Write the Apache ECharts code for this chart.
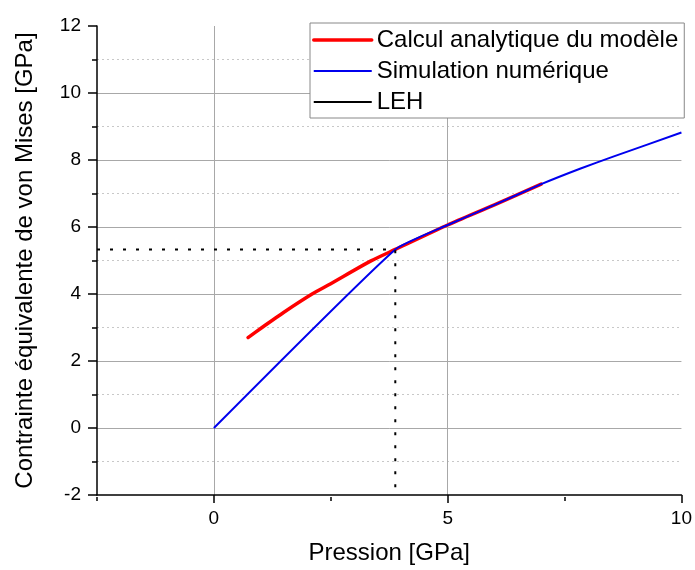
<!DOCTYPE html>
<html>
<head>
<meta charset="utf-8">
<script src="https://cdn.jsdelivr.net/npm/echarts@6/dist/echarts.min.js"></script>
<style>
html,body{margin:0;padding:0;background:#fff;}
#c{width:695px;height:570px;}
</style>
</head>
<body>
<div id="c"></div>
<script>
// ---- data ----
const analyticX = [0.73, 1.03, 1.49, 2.10, 2.49, 3.35, 3.88, 5.0, 6.0, 7.0];
const analyticY = [2.70, 3.00, 3.45, 4.00, 4.30, 4.98, 5.33, 6.06, 6.66, 7.28];
const simX = [0, 3.88, 5.0, 6.0, 7.0, 7.83, 8.54, 10];
const simY = [0, 5.33, 6.06, 6.66, 7.28, 7.74, 8.10, 8.82];
const lehX = [-2.5, 3.88, 3.88];
const lehY = [5.33, 5.33, -2];
const xMajorTicks = [0, 5, 10];
const seriesNames = ['Calcul analytique du modèle', 'Simulation numérique', 'LEH'];

const FONT = 'Liberation Sans, Arial, sans-serif';
const zip = (a, b) => a.map((v, i) => [v, b[i]]);

const chart = echarts.init(document.getElementById('c'), null, {renderer: 'canvas'});
const gridPos = {left: 97, right: 13, top: 26, bottom: 73, containLabel: false};
chart.setOption({
  animation: false,
  backgroundColor: '#fff',
  grid: [Object.assign({}, gridPos), Object.assign({}, gridPos)],
  legend: {
    orient: 'vertical',
    left: 310, top: 23,
    backgroundColor: '#fff',
    borderColor: '#888', borderWidth: 1,
    padding: [5, 6, 4, 2],
    itemWidth: 58, itemHeight: 14, itemGap: 7,
    itemStyle: {opacity: 0},
    textStyle: {fontFamily: FONT, fontSize: 24, color: '#000', lineHeight: 24},
    data: [
      {name: seriesNames[0], lineStyle: {color: '#ff0000', width: 3.5, type: 'solid'}},
      {name: seriesNames[1], lineStyle: {color: '#0000ee', width: 2, type: 'solid'}},
      {name: seriesNames[2], lineStyle: {color: '#000', width: 2, type: 'solid'}}
    ]
  },
  xAxis: [{
    gridIndex: 0, type: 'value', min: -2.5, max: 10,
    name: 'Pression [GPa]', nameLocation: 'middle', nameGap: 46,
    nameTextStyle: {fontFamily: FONT, fontSize: 24, color: '#000'},
    axisLine: {show: true, onZero: false, lineStyle: {color: '#000', width: 1.5}},
    axisTick: {show: true, inside: false, length: 8, customValues: xMajorTicks, lineStyle: {color: '#000', width: 1.5}},
    axisLabel: {show: true, customValues: xMajorTicks, margin: 14, fontFamily: FONT, fontSize: 19, color: '#000'},
    splitLine: {show: true, lineStyle: {color: ['#a8a8a8', '#a8a8a8', 'rgba(0,0,0,0)'], width: 1}}
  }, {
    gridIndex: 1, type: 'value', min: -2.5, max: 10, interval: 2.5, position: 'bottom',
    axisLine: {show: false, onZero: false},
    axisTick: {show: true, length: 4, lineStyle: {color: '#000', width: 1.5}},
    axisLabel: {show: false},
    splitLine: {show: false}
  }],
  yAxis: [{
    gridIndex: 0, type: 'value', min: -2, max: 12, interval: 2,
    name: 'Contrainte équivalente de von Mises [GPa]', nameLocation: 'middle', nameGap: 60,
    nameTextStyle: {fontFamily: FONT, fontSize: 24, color: '#000'},
    axisLine: {show: true, onZero: false, lineStyle: {color: '#000', width: 1.5}},
    axisTick: {show: true, length: 9, lineStyle: {color: '#000', width: 1.5}},
    minorTick: {show: true, splitNumber: 2, length: 5, lineStyle: {color: '#000', width: 1.5}},
    axisLabel: {margin: 16, fontFamily: FONT, fontSize: 19, color: '#000'},
    splitLine: {show: true, showMinLine: false, showMaxLine: false, lineStyle: {color: '#a8a8a8', width: 1}},
    minorSplitLine: {show: true, lineStyle: {color: '#c8c8c8', width: 1, type: [2, 3]}}
  }, {
    gridIndex: 1, type: 'value', min: -2, max: 12, interval: 2,
    axisLine: {show: false, onZero: false}, axisTick: {show: false}, axisLabel: {show: false}, splitLine: {show: false}
  }],
  series: [{
    name: seriesNames[0], type: 'line', xAxisIndex: 0, yAxisIndex: 0,
    data: zip(analyticX, analyticY), symbol: 'none', smooth: 0.25,
    lineStyle: {color: '#ff0000', width: 3.5, join: 'round', cap: 'round'}, itemStyle: {color: '#ff0000'}, z: 3
  }, {
    name: seriesNames[1], type: 'line', xAxisIndex: 0, yAxisIndex: 0,
    data: zip(simX, simY), symbol: 'none', smooth: 0.15,
    lineStyle: {color: '#0000ee', width: 2, join: 'round'}, itemStyle: {color: '#0000ee'}, z: 4
  }, {
    name: seriesNames[2], type: 'line', xAxisIndex: 0, yAxisIndex: 0,
    data: zip(lehX, lehY), symbol: 'none',
    lineStyle: {color: '#000', width: 2, type: [3, 10]}, itemStyle: {color: '#000'}, z: 5
  }]
});
</script>
</body>
</html>
